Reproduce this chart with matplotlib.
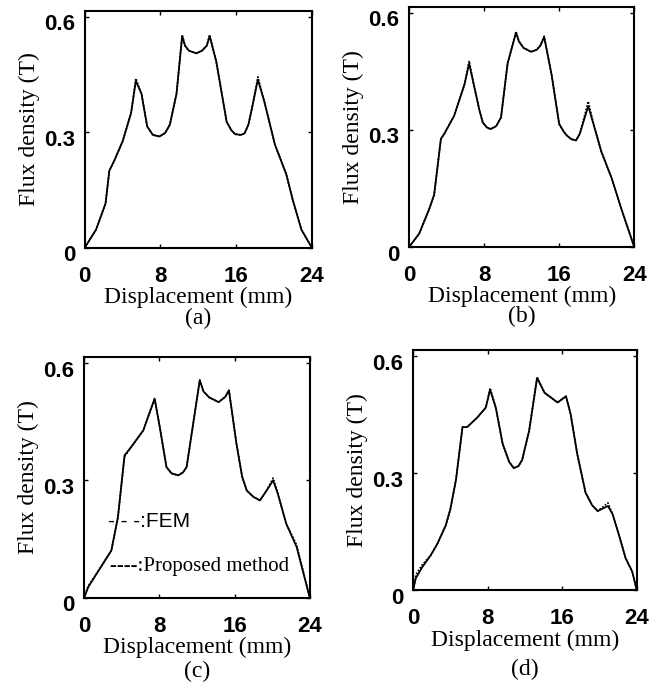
#!/usr/bin/env python3
"""Flux density vs displacement, FEM vs proposed method, four cases."""

import matplotlib
matplotlib.use('Agg')
import matplotlib.pyplot as plt
import matplotlib.transforms as mtransforms

# ---- data ----
x_a = [0, 1.2, 2.2, 2.6, 3.1, 4.0, 4.9, 5.4, 6.0, 6.6, 7.2, 7.9, 8.5, 9.0, 9.7,
       10.3, 10.6, 11.0, 11.8, 12.4, 12.9, 13.2, 13.9, 15.0, 15.5, 15.9, 16.5,
       16.9, 17.3, 17.7, 18.3, 19.0, 20.1, 21.3, 22.0, 22.9, 24]
fem_a = [0, 0.047, 0.115, 0.20, 0.225, 0.276, 0.35, 0.433, 0.40, 0.315, 0.293,
         0.289, 0.298, 0.32, 0.40, 0.55, 0.525, 0.512, 0.505, 0.512, 0.525, 0.55,
         0.484, 0.327, 0.305, 0.295, 0.293, 0.297, 0.32, 0.365, 0.437, 0.378,
         0.268, 0.191, 0.123, 0.047, 0]
prop_a = [0, 0.047, 0.115, 0.20, 0.225, 0.276, 0.35, 0.440, 0.40, 0.315, 0.293,
          0.289, 0.298, 0.32, 0.40, 0.553, 0.525, 0.512, 0.505, 0.512, 0.525,
          0.553, 0.484, 0.327, 0.305, 0.295, 0.293, 0.297, 0.32, 0.365, 0.444,
          0.378, 0.268, 0.191, 0.123, 0.047, 0]

x_b = [0, 1.07, 2.14, 2.67, 3.39, 3.75, 4.8, 5.9, 6.4, 6.95, 7.5, 7.85, 8.3, 8.7,
       9.3, 9.8, 10.5, 11.4, 11.7, 12.2, 13.0, 13.6, 14.0, 14.4, 15.2, 16.0,
       16.5, 16.8, 17.3, 17.8, 18.2, 19.1, 19.8, 20.5, 21.6, 22.6, 24]
fem_b = [0, 0.034, 0.097, 0.134, 0.277, 0.29, 0.336, 0.416, 0.47, 0.41, 0.35,
         0.319, 0.306, 0.302, 0.31, 0.332, 0.47, 0.549, 0.527, 0.51, 0.50, 0.505,
         0.516, 0.538, 0.44, 0.315, 0.295, 0.286, 0.276, 0.273, 0.29, 0.361,
         0.303, 0.244, 0.176, 0.10, 0]
prop_b = [0, 0.034, 0.097, 0.134, 0.277, 0.29, 0.336, 0.416, 0.477, 0.41, 0.35,
          0.319, 0.306, 0.302, 0.31, 0.332, 0.47, 0.552, 0.527, 0.51, 0.50, 0.505,
          0.516, 0.540, 0.44, 0.315, 0.295, 0.286, 0.276, 0.273, 0.29, 0.373,
          0.303, 0.244, 0.176, 0.10, 0]

x_c = [0, 0.43, 2.0, 2.9, 3.6, 4.3, 5.0, 6.3, 7.5, 8.05, 8.76, 9.3, 10.0, 10.5,
       10.9, 11.6, 12.3, 12.7, 13.3, 14.3, 15.0, 15.4, 16.2, 16.8, 17.3, 18.0,
       18.7, 19.4, 20.1, 20.6, 21.5, 22.6, 24]
fem_c = [0, 0.027, 0.087, 0.121, 0.206, 0.364, 0.385, 0.428, 0.509, 0.436, 0.334,
         0.318, 0.313, 0.32, 0.334, 0.445, 0.556, 0.527, 0.512, 0.50, 0.513,
         0.53, 0.394, 0.31, 0.274, 0.258, 0.249, 0.274, 0.30, 0.266, 0.189,
         0.13, 0]
prop_c = [0, 0.030, 0.087, 0.121, 0.206, 0.360, 0.385, 0.428, 0.509, 0.436,
          0.334, 0.318, 0.313, 0.32, 0.334, 0.445, 0.556, 0.527, 0.512, 0.50,
          0.513, 0.53, 0.394, 0.31, 0.274, 0.258, 0.249, 0.274, 0.306, 0.266,
          0.189, 0.135, 0]

x_d = [0, 0.29, 1.0, 1.9, 2.6, 3.5, 4.0, 4.6, 5.3, 5.8, 6.9, 7.8, 8.26, 8.87,
       9.6, 10.3, 10.8, 11.3, 11.7, 12.45, 13.3, 14.1, 15.5, 16.4, 16.9, 17.6,
       18.5, 19.2, 19.8, 20.9, 21.4, 22.1, 22.8, 23.5, 24]
fem_d = [0, 0.031, 0.06, 0.09, 0.119, 0.166, 0.208, 0.283, 0.418, 0.418, 0.443,
         0.468, 0.514, 0.468, 0.376, 0.329, 0.313, 0.318, 0.334, 0.409, 0.544,
         0.506, 0.481, 0.497, 0.451, 0.35, 0.25, 0.218, 0.203, 0.216, 0.195,
         0.14, 0.082, 0.048, 0]
prop_d = [0, 0.040, 0.066, 0.09, 0.119, 0.166, 0.208, 0.283, 0.418, 0.418, 0.443,
          0.468, 0.518, 0.468, 0.376, 0.329, 0.313, 0.318, 0.334, 0.409, 0.546,
          0.506, 0.481, 0.497, 0.451, 0.35, 0.25, 0.218, 0.203, 0.224, 0.195,
          0.14, 0.082, 0.048, 0]

x_ticks = [0, 8, 16, 24]
y_ticks = [0, 0.3, 0.6]
y_ticklabels = ['0', '0.3', '0.6']

panels = [
    ('(a)', x_a, fem_a, prop_a, [0.128, 0.640, 0.343, 0.344], 0.30),
    ('(b)', x_b, fem_b, prop_b, [0.618, 0.641, 0.340, 0.349], 0.29),
    ('(c)', x_c, fem_c, prop_c, [0.127, 0.131, 0.341, 0.350], 0.305),
    ('(d)', x_d, fem_d, prop_d, [0.624, 0.142, 0.338, 0.349], 0.33),
]

SANS = 'Liberation Sans'
SERIF = 'Liberation Serif'

fig = plt.figure(figsize=(6.62, 6.88), dpi=100)

for tag, xs, fem, prop, rect, tag_y in panels:
    ax = fig.add_axes(rect)
    ax.plot(xs, prop, color='black', lw=1.2, ls=(0, (1, 1)))
    ax.plot(xs, fem, color='black', lw=1.3)

    ax.set_xlim(0, 24)
    ax.set_ylim(0, 0.615)
    ax.set_xticks(x_ticks)
    ax.set_yticks(y_ticks)
    ax.set_yticklabels(y_ticklabels)
    ax.tick_params(direction='in', length=3, width=1, top=True, right=True)
    ax.tick_params(axis='x', pad=13)
    ax.tick_params(axis='y', pad=7)
    for lbl in ax.get_xticklabels() + ax.get_yticklabels():
        lbl.set_fontfamily(SANS)
        lbl.set_fontweight('bold')
        lbl.set_fontsize(16)
    # y labels sit a bit low in the original
    off = mtransforms.ScaledTranslation(0, -4 / 72, fig.dpi_scale_trans)
    for lbl in ax.get_yticklabels():
        lbl.set_transform(lbl.get_transform() + off)
    for sp in ax.spines.values():
        sp.set_linewidth(1.5)

    ax.set_ylabel('Flux density (T)', fontfamily=SERIF, fontsize=17, labelpad=3)
    ax.set_xlabel('Displacement (mm)', fontfamily=SERIF, fontsize=17, labelpad=0)
    ax.text(0.5, -tag_y, tag, transform=ax.transAxes, ha='center', va='center',
            fontfamily=SERIF, fontsize=17)

    if tag == '(c)':
        ax.text(0.105, 0.295, '- - -:FEM', transform=ax.transAxes,
                fontfamily=SANS, fontsize=15, va='baseline')
        ax.text(0.115, 0.11, '----:Proposed method', transform=ax.transAxes,
                fontfamily=SERIF, fontsize=15, va='baseline')

fig.savefig('out.png', dpi=100, facecolor='white')
